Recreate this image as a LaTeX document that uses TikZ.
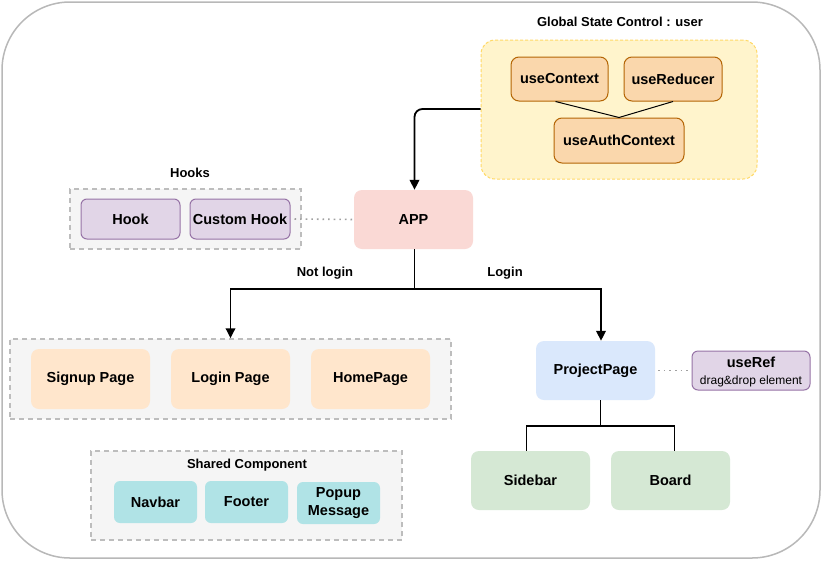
\documentclass[tikz,border=0pt]{standalone}
\usepackage{fontspec}
\setmainfont{Liberation Sans}
\usetikzlibrary{arrows.meta}
\definecolor{outerc}{HTML}{B8B8B8}
\definecolor{contfill}{HTML}{F5F5F5}
\definecolor{contline}{HTML}{BDBDBD}
\definecolor{yfill}{HTML}{FFF4CC}
\definecolor{yline}{HTML}{FFD966}
\definecolor{ofill}{HTML}{FAD7AC}
\definecolor{oline}{HTML}{B46504}
\definecolor{appfill}{HTML}{FAD9D5}
\definecolor{pagefill}{HTML}{FFE6CC}
\definecolor{shfill}{HTML}{B0E3E6}
\definecolor{bluefill}{HTML}{DAE8FC}
\definecolor{greenfill}{HTML}{D5E8D4}
\definecolor{pfill}{HTML}{E1D5E7}
\definecolor{pline}{HTML}{9673A6}
\definecolor{dotc}{HTML}{A0A0A0}
\tikzset{
  box/.style={rectangle, rounded corners=8pt, align=center, inner sep=0pt,
    font=\fontsize{14.5}{18}\selectfont\bfseries, text=black},
  cont/.style={rectangle, fill=contfill, draw=contline, line width=1.5pt,
    dash pattern=on 5pt off 4pt, inner sep=0pt},
  ttl/.style={font=\fontsize{13}{15}\selectfont\bfseries, inner sep=0pt},
  conn/.style={line width=1.8pt, -{Triangle[length=10pt,width=9.5pt]}},
  plain/.style={line width=1.8pt},
  dotl/.style={draw=dotc, line width=1.6pt, dash pattern=on 1.6pt off 4pt},
}
\begin{document}
\begin{tikzpicture}[x=1pt,y=-1pt]
\useasboundingbox (0,0) rectangle (822,560);
\draw[draw=outerc, line width=1.5pt, fill=white, rounded corners=68pt] (2,2) rectangle (820,558);

% Global state
\node[ttl] (gtitle) at (620,22) {Global State Control : user};
\node[rectangle, rounded corners=14pt, fill=yfill, draw=yline, line width=1pt,
  dash pattern=on 3pt off 2pt, minimum width=276pt, minimum height=139pt] (ybox) at (619,109.5) {};
\node[box, fill=ofill, draw=oline, line width=1pt, minimum width=97pt, minimum height=44pt] (uctx) at (559.5,79) {useContext};
\node[box, fill=ofill, draw=oline, line width=1pt, minimum width=98pt, minimum height=44pt] (ured) at (673,79) {useReducer};
\node[box, fill=ofill, draw=oline, line width=1pt, minimum width=130pt, minimum height=45pt] (uauth) at (619,140.5) {useAuthContext};
\draw[line width=1pt] ([xshift=-4pt]uctx.south) -- (uauth.north) -- (ured.south);

% APP
\node[box, fill=appfill, minimum width=119pt, minimum height=59pt] (app) at (413.5,219.5) {APP};
\draw[conn, rounded corners=8pt] ([yshift=0.5pt]ybox.west) -| ([xshift=1pt]app.north);

% Hooks
\node[ttl] (htitle) at (190,173) {Hooks};
\node[cont, minimum width=231pt, minimum height=60pt] (hcont) at (185.5,219) {};
\node[box, fill=pfill, draw=pline, line width=1pt, rounded corners=6pt, minimum width=99pt, minimum height=40pt] (hook) at (130.5,219) {Hook};
\node[box, fill=pfill, draw=pline, line width=1pt, rounded corners=6pt, minimum width=100pt, minimum height=40pt] (chook) at (240,219) {Custom Hook};
\draw[dotl] ([xshift=4pt]chook.east) -- (app.west);

% Pages
\node[cont, minimum width=441pt, minimum height=80pt] (pcont) at (230.5,379) {};
\node[box, fill=pagefill, minimum width=119pt, minimum height=60pt] (signup) at (90.5,379) {Signup Page};
\node[box, fill=pagefill, minimum width=119pt, minimum height=60pt] (login) at (230.5,379) {Login Page};
\node[box, fill=pagefill, minimum width=119pt, minimum height=60pt] (home) at (370.5,379) {HomePage};

% Project page
\node[box, fill=bluefill, minimum width=119pt, minimum height=59pt] (pp) at (595.5,370.5) {ProjectPage};
\node[rectangle, rounded corners=6pt, fill=pfill, draw=pline, line width=1pt, minimum width=118pt, minimum height=39pt, inner sep=0pt] (uref) at (751,370.5) {};
\node[font=\fontsize{14.5}{17}\selectfont\bfseries, inner sep=0pt] (ureft) at (751,362) {useRef};
\node[font=\fontsize{12}{14}\selectfont, inner sep=0pt] (urefs) at (751,381) {drag\&drop element};
\draw[dotl] ([xshift=3pt]pp.east) -- (uref.west);

% APP branches
\coordinate (split) at (414.5,289);
\draw[plain] ([xshift=1pt]app.south) -- (split);
\draw[conn] (split) -| (pcont.north);
\draw[conn] (split) -| ([xshift=5.5pt]pp.north);
\node[ttl] (nl) at (325,273) {Not login};
\node[ttl] (lg) at (505,273) {Login};

% Sidebar / Board
\node[box, fill=greenfill, minimum width=119pt, minimum height=59pt] (side) at (530.5,480.5) {Sidebar};
\node[box, fill=greenfill, minimum width=119pt, minimum height=59pt] (board) at (670.5,480.5) {Board};
\coordinate (psplit) at (600.5,426);
\draw[plain] ([xshift=5pt]pp.south) -- (psplit);
\draw[plain] (psplit) -| ([xshift=-4pt]side.north);
\draw[plain] (psplit) -| ([xshift=4pt]board.north);

% Shared
\node[cont, minimum width=311pt, minimum height=89pt] (scont) at (246.5,495.5) {};
\node[ttl] (stitle) at (247,465) {Shared Component};
\node[box, fill=shfill, rounded corners=6pt, minimum width=83pt, minimum height=42pt] (nav) at (155.5,502) {Navbar};
\node[box, fill=shfill, rounded corners=6pt, minimum width=83pt, minimum height=42pt] (foot) at (246.5,502) {Footer};
\node[box, fill=shfill, rounded corners=6pt, minimum width=83pt, minimum height=42pt] (popup) at (338.5,503) {Popup\\Message};
\end{tikzpicture}
\end{document}
